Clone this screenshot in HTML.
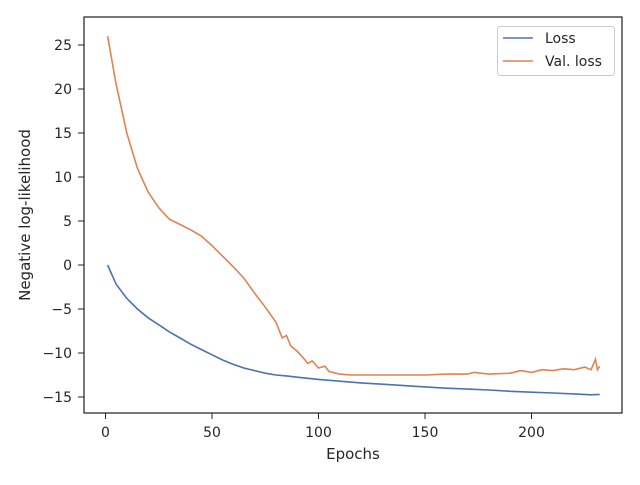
<!DOCTYPE html>
<html><head><meta charset="utf-8"><style>
body{margin:0;background:#fff;}
svg text{font-family:"DejaVu Sans","Liberation Sans",sans-serif;fill:#262626;}
</style></head><body>
<svg id="chart" width="640" height="480" xmlns="http://www.w3.org/2000/svg">
<rect x="84" y="17" width="538" height="396" fill="#fff" stroke="#262626" stroke-width="1.25"/>
<g id="axes"></g>
<path id="lossLine" fill="none" stroke="#4c72b0" stroke-width="1.6"/>
<path id="valLine" fill="none" stroke="#dd8452" stroke-width="1.6"/>
<text x="353" y="459" font-size="15" text-anchor="middle">Epochs</text>
<text transform="translate(30,215) rotate(-90)" font-size="15" text-anchor="middle">Negative log-likelihood</text>
<g>
<rect x="497.5" y="26.5" width="117" height="49" rx="3" fill="#fff" stroke="#ccc"/>
<line x1="503" y1="38" x2="533" y2="38" stroke="#4c72b0" stroke-width="1.6"/>
<text x="545" y="43" font-size="14">Loss</text>
<line x1="503" y1="61" x2="533" y2="61" stroke="#dd8452" stroke-width="1.6"/>
<text x="545" y="66" font-size="14">Val. loss</text>
</g>
</svg>
<script>
const lossEpochs=[1,5,10,15,20,25,30,35,40,45,50,55,60,65,70,75,80,85,90,100,110,120,130,140,150,160,170,180,190,200,210,220,228,232];
const lossValues=[0,-2.2,-3.8,-5,-6,-6.8,-7.6,-8.3,-9,-9.6,-10.2,-10.8,-11.3,-11.7,-12.0,-12.3,-12.5,-12.6,-12.75,-13.0,-13.2,-13.4,-13.55,-13.7,-13.85,-14.0,-14.1,-14.2,-14.35,-14.45,-14.55,-14.65,-14.75,-14.7];
const valEpochs=[1,5,10,15,20,25,30,35,40,45,50,55,60,65,70,75,80,83,85,87,90,93,95,97,100,103,105,110,115,120,130,140,150,160,170,173,180,190,195,200,205,210,215,220,225,228,230,231,232];
const valValues=[26,20.5,15,11,8.3,6.5,5.2,4.6,4.0,3.3,2.2,1,-0.2,-1.5,-3.2,-4.8,-6.5,-8.3,-8.0,-9.2,-9.8,-10.6,-11.2,-10.9,-11.7,-11.5,-12.1,-12.4,-12.5,-12.5,-12.5,-12.5,-12.5,-12.4,-12.4,-12.2,-12.4,-12.3,-12.0,-12.2,-11.9,-12.0,-11.8,-11.9,-11.6,-11.9,-10.7,-11.9,-11.5];
const xTicks=[0,50,100,150,200];
const yTicks=[25,20,15,10,5,0,-5,-10,-15];
const X=v=>105.5+v*2.13;
const Y=v=>265-v*8.8;
const ns="http://www.w3.org/2000/svg";
const axes=document.getElementById('axes');
xTicks.forEach(t=>{
  const l=document.createElementNS(ns,'line');
  l.setAttribute('x1',X(t));l.setAttribute('x2',X(t));l.setAttribute('y1',413);l.setAttribute('y2',419);
  l.setAttribute('stroke','#262626');
  
  
  axes.appendChild(l);
  const tx=document.createElementNS(ns,'text');
  tx.setAttribute('x',X(t));tx.setAttribute('y',437);tx.setAttribute('font-size','14');tx.setAttribute('text-anchor','middle');
  tx.textContent=t;
  
  
  axes.appendChild(tx);
});
yTicks.forEach(t=>{
  const l=document.createElementNS(ns,'line');
  l.setAttribute('x1',78);l.setAttribute('x2',84);l.setAttribute('y1',Y(t));l.setAttribute('y2',Y(t));
  l.setAttribute('stroke','#262626');
  
  
  axes.appendChild(l);
  const tx=document.createElementNS(ns,'text');
  tx.setAttribute('x',72);tx.setAttribute('y',Y(t)+5);tx.setAttribute('font-size','14');tx.setAttribute('text-anchor','end');
  tx.textContent=t<0?'\u2212'+(-t):t;
  
  
  axes.appendChild(tx);
});
const path=(xs,ys)=>xs.map((e,i)=>(i?'L':'M')+X(e).toFixed(1)+','+Y(ys[i]).toFixed(1)).join('');
document.getElementById('lossLine').setAttribute('d',path(lossEpochs,lossValues));
document.getElementById('valLine').setAttribute('d',path(valEpochs,valValues));
</script>
</body></html>
